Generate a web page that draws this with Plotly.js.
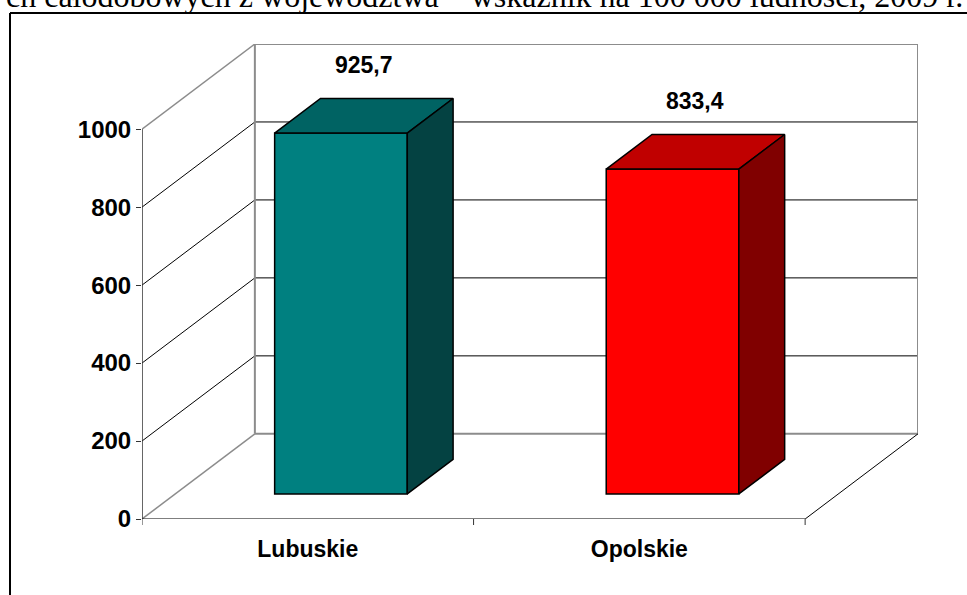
<!DOCTYPE html>
<html>
<head>
<meta charset="utf-8">
<script src="https://cdn.plot.ly/plotly-3.0.1.min.js"></script>
<style>html,body{margin:0;padding:0;background:#fff;}#chart{width:967px;height:595px;}</style>
</head>
<body>
<div id="chart"></div>
<script>
// ---- data ----
const categories = ['Lubuskie', 'Opolskie'];
const values = [925.7, 833.4];
const valueLabels = ['925,7', '833,4'];
const yTicks = [0, 200, 400, 600, 800, 1000];
const titleText = 'ch całodobowych z województwa – wskaźnik na 100 000 ludności, 2009 r.';

// ---- styles / geometry ----
const frontColors = ['#008080', '#FF0000'];
const topColors = ['#006363', '#C00000'];
const sideColors = ['#044242', '#800000'];
const W = 967, H = 595, L = 142, R = 918, T = 44, B = 519;
const DX = 0.3404;   // depth shift in category units
const DY = 218.5;    // depth shift in value units
const yMax = 1000;
const d0 = 0.294, d1 = 0.70, hw = 0.2;
const FONT = 'Liberation Sans, Arial, sans-serif';

const proj = (x, y, d) => [x + d * DX, y + d * DY];
const px2paperX = p => (p - L) / (R - L);
const px2paperY = p => (B - p) / (B - T);

const idx = categories.map((_, i) => i);
const traces = [];

// front faces
traces.push({
  type: 'bar', x: idx, y: values, base: d0 * DY, offset: -hw + d0 * DX, width: 2 * hw,
  marker: {color: frontColors, line: {color: '#000', width: 1.5}},
  hoverinfo: 'skip', showlegend: false
});

function poly(pts, color) {
  const xs = pts.map(p => p[0]), ys = pts.map(p => p[1]);
  xs.push(xs[0]); ys.push(ys[0]);
  return {type: 'scatter', mode: 'lines', x: xs, y: ys, fill: 'toself', fillcolor: color,
    line: {color: '#000', width: 1.5}, hoverinfo: 'skip', showlegend: false};
}
idx.forEach((c, i) => {
  const v = values[i];
  traces.push(poly([proj(c - hw, v, d0), proj(c + hw, v, d0), proj(c + hw, v, d1), proj(c - hw, v, d1)], topColors[i]));
  traces.push(poly([proj(c + hw, 0, d0), proj(c + hw, v, d0), proj(c + hw, v, d1), proj(c + hw, 0, d1)], sideColors[i]));
});

// ---- walls, gridlines ----
const shapes = [];
function seg(a, b, color, width, layer) {
  shapes.push({type: 'line', xref: 'x', yref: 'y', x0: a[0], y0: a[1], x1: b[0], y1: b[1],
    line: {color: color, width: width}, layer: layer || 'below'});
}
const x0 = -0.5, x1 = categories.length - 0.5;
yTicks.forEach(v => {
  const edge = (v === 0 || v === yMax);
  const col = edge ? '#8c8c8c' : '#000';
  const w = edge ? 2 : 1;
  seg(proj(x0, v, 0), proj(x0, v, 1), col, edge ? 1.5 : 1);
  seg(proj(x0, v, 1), proj(x1, v, 1), col, w);
});
seg(proj(x0, 0, 1), proj(x0, yMax, 1), '#8c8c8c', 2);
seg(proj(x1, 0, 1), proj(x1, yMax, 1), '#8c8c8c', 2);
seg(proj(x1, 0, 0), proj(x1, 0, 1), '#000', 1);
seg(proj(x0, 0, 0), proj(x1, 0, 0), '#000', 1.2, 'above');
seg(proj(x0, 0, 0), proj(x0, yMax, 0), '#333', 1.5, 'above');
// category boundary ticks
for (let k = 0; k <= categories.length; k++) {
  shapes.push({type: 'line', xref: 'x', yref: 'paper', x0: k - 0.5, x1: k - 0.5,
    y0: 0, y1: px2paperY(B + 6), line: {color: '#333', width: 1}});
}
// outer frame
shapes.push({type: 'line', xref: 'paper', yref: 'paper', x0: px2paperX(10), x1: px2paperX(10),
  y0: px2paperY(13), y1: px2paperY(H + 5), line: {color: '#000', width: 2}});
shapes.push({type: 'line', xref: 'paper', yref: 'paper', x0: px2paperX(10), x1: px2paperX(W + 5),
  y0: px2paperY(13), y1: px2paperY(13), line: {color: '#000', width: 2}});

// ---- annotations ----
const annotations = idx.map((c, i) => {
  const mid = (d0 + d1) / 2;
  const p = proj(c, values[i], mid);
  return {x: p[0], y: p[1], xref: 'x', yref: 'y', text: valueLabels[i], showarrow: false,
    yanchor: 'middle', yshift: 51, font: {family: FONT, size: 23, color: '#000', weight: 'bold'}};
});
annotations.push({xref: 'paper', yref: 'paper', x: px2paperX(965), y: px2paperY(16),
  xanchor: 'right', yanchor: 'bottom', text: titleText, showarrow: false,
  font: {family: 'Liberation Serif, Times New Roman, serif', size: 32, color: '#000'}});

const layout = {
  width: W, height: H,
  margin: {l: L, r: W - R, t: T, b: H - B, pad: 0},
  paper_bgcolor: '#fff', plot_bgcolor: '#fff',
  showlegend: false,
  xaxis: {type: 'linear', range: [x0, x1 + DX], tickmode: 'array', tickvals: idx, ticktext: categories,
    ticks: '', showgrid: false, zeroline: false, showline: false, ticklabelstandoff: 14,
    tickfont: {family: FONT, size: 23, color: '#000', weight: 'bold'}},
  yaxis: {range: [0, yMax + DY], tickmode: 'array', tickvals: yTicks, ticks: 'outside', ticklen: 5,
    tickcolor: '#333', tickwidth: 1, showgrid: false, zeroline: false, showline: false,
    tickfont: {family: FONT, size: 24, color: '#000', weight: 'bold'}},
  shapes: shapes, annotations: annotations
};
Plotly.newPlot('chart', traces, layout, {staticPlot: true, displayModeBar: false});
</script>
</body>
</html>
